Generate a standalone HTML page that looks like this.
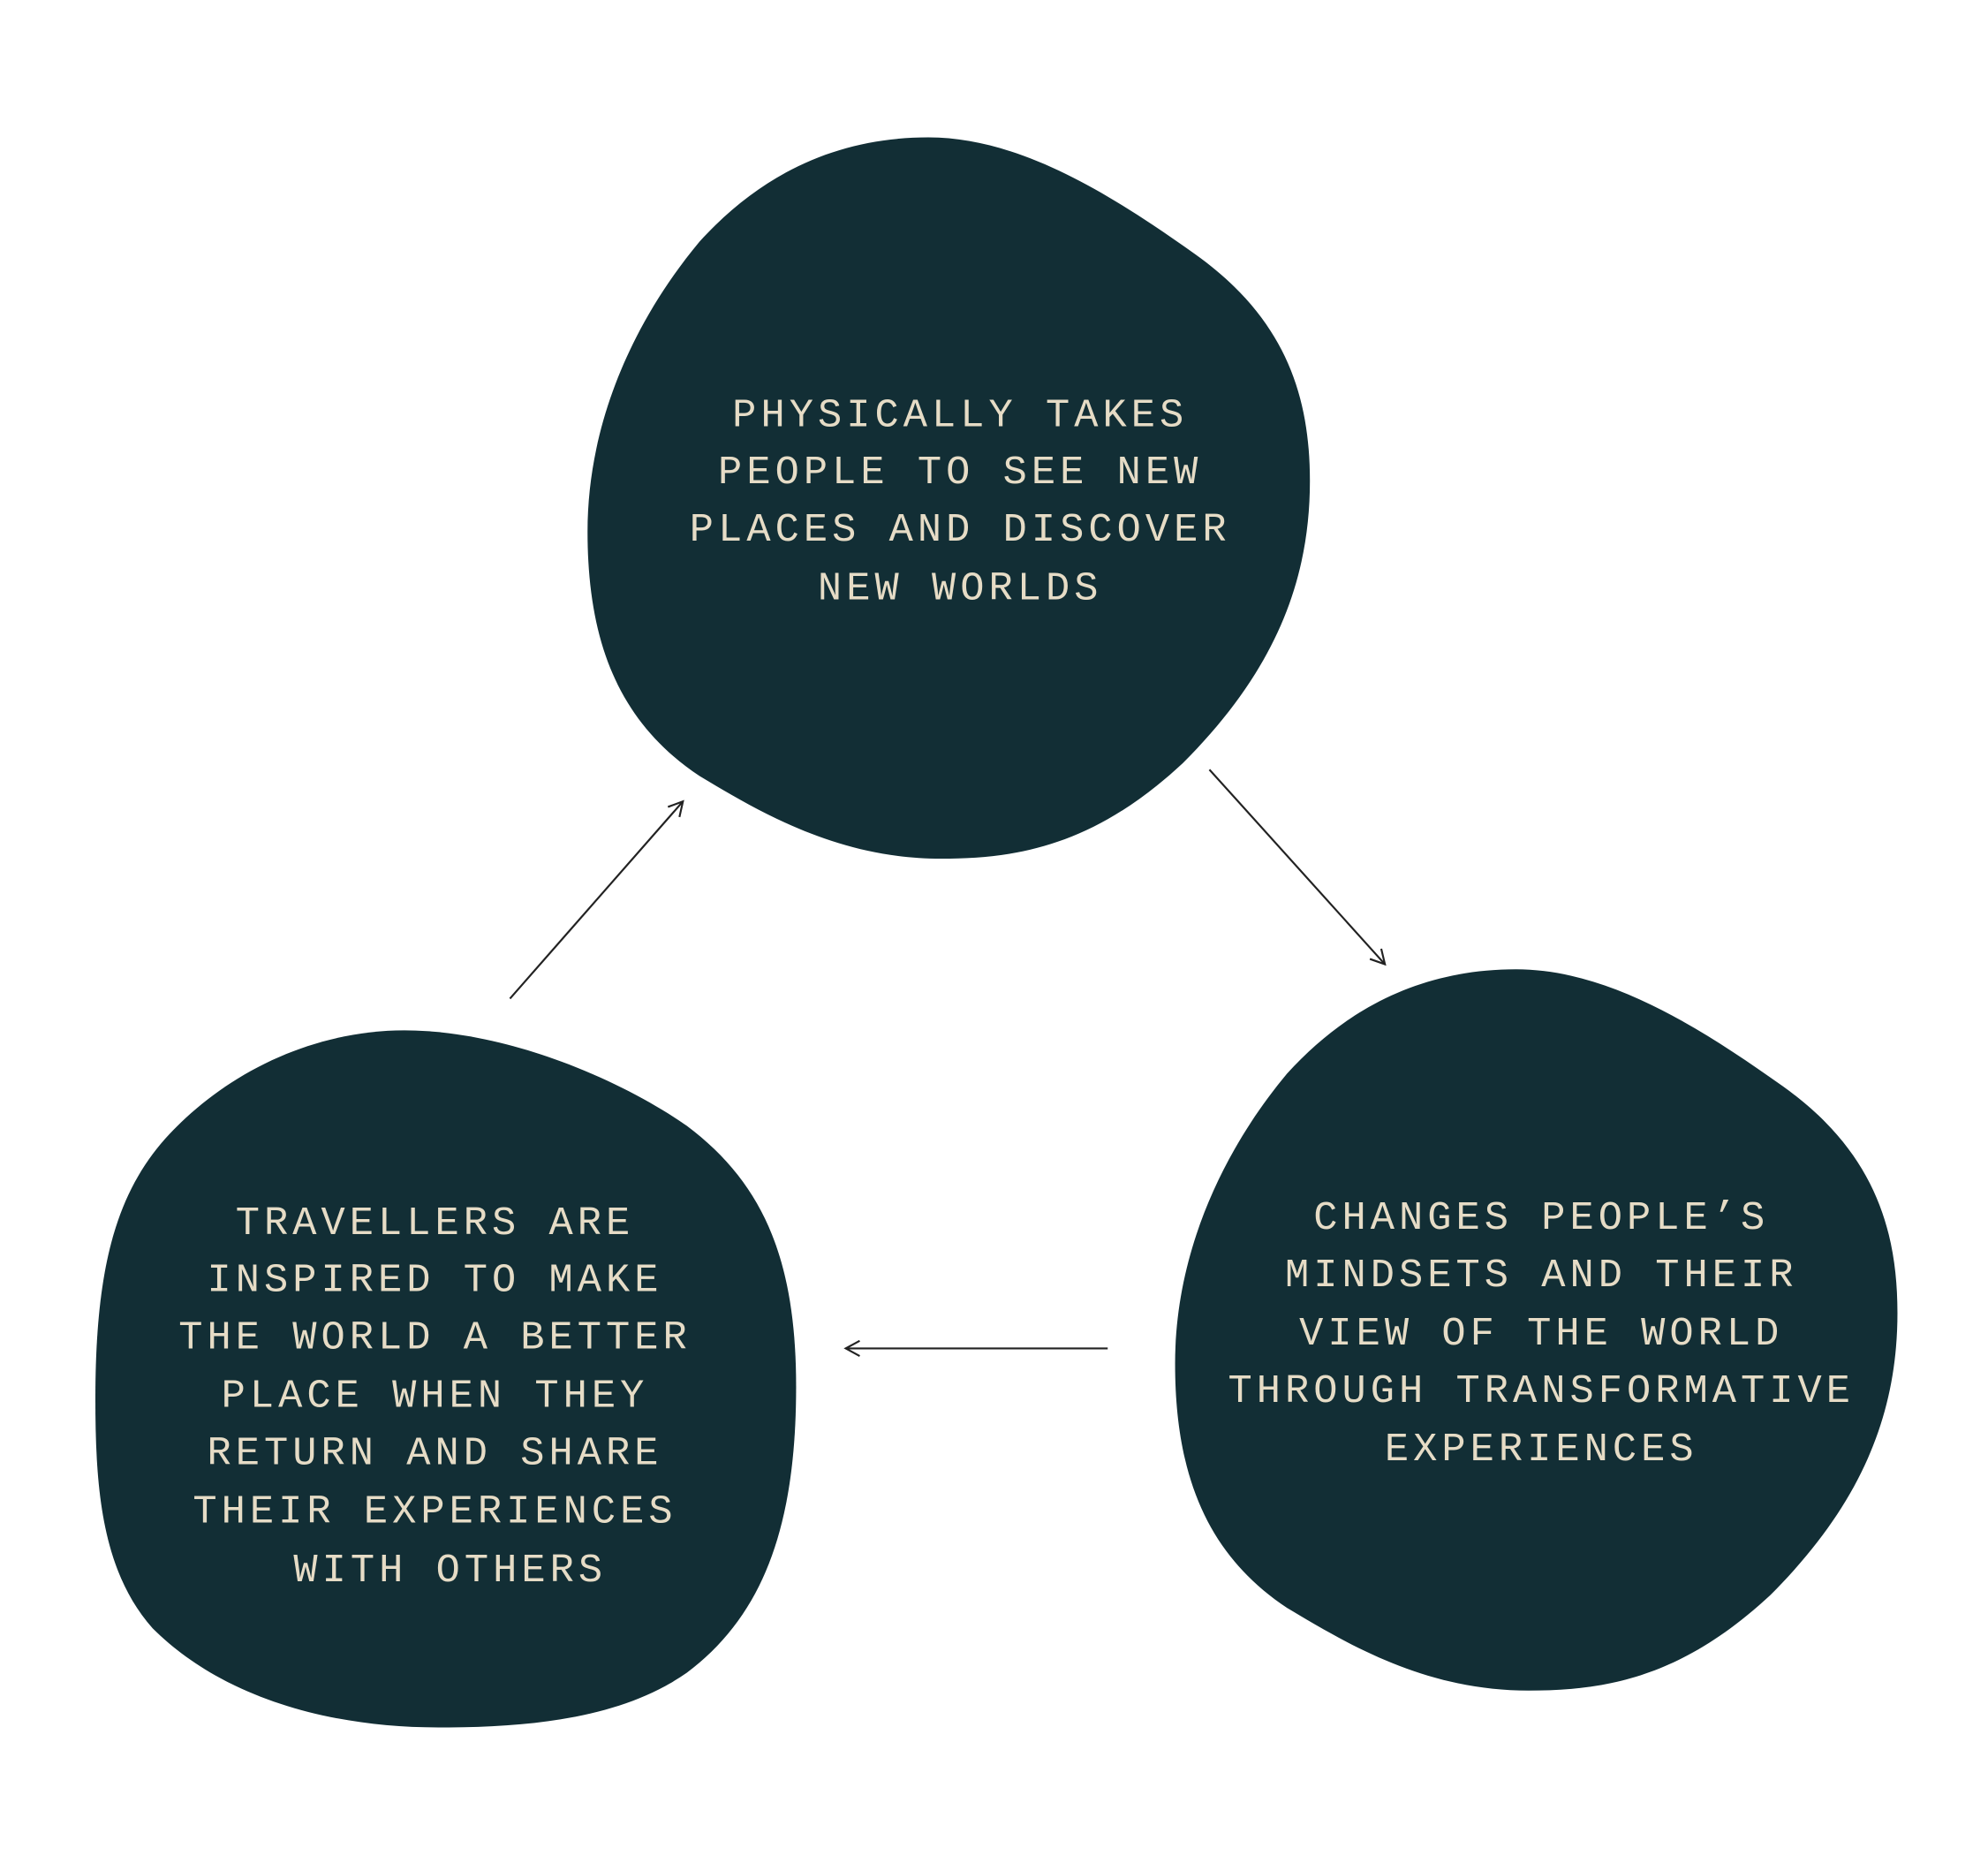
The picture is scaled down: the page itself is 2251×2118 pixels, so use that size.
<!DOCTYPE html>
<html><head><meta charset="utf-8"><style>
html,body{margin:0;padding:0;background:#fff;}
svg{display:block;}
text{font-family:"Liberation Mono",monospace;font-size:31.5px;letter-spacing:3.5px;fill:#e6dcc6;text-anchor:middle;}
</style></head><body>
<svg width="2251" height="2118" viewBox="0 0 1563.2 1470.8" xmlns="http://www.w3.org/2000/svg">
<defs>
<path id="blob" d="M730,108 C800,108 870,150 940,200 C1010,250 1030,310 1030,378 C1030,460 1000,530 930,600 C860,665 800,675 740,675 C660,675 600,640 550,610 C490,570 462,510 462,418 C462,330 500,250 550,190 C600,135 660,108 730,108 Z"/>
<marker id="ah" markerWidth="14" markerHeight="14" refX="12" refY="7" orient="auto" markerUnits="userSpaceOnUse">
<path d="M1,1 L12,7 L1,13" fill="none" stroke="#222" stroke-width="1.5"/>
</marker>
</defs>
<use href="#blob" fill="#122e35"/>
<use href="#blob" fill="#122e35" transform="translate(462,654)"/>
<path fill="#122e35" d="M318,810 C400,810 490,850 540,885 C600,930 626,990 626,1090 C626,1200 600,1270 540,1315 C490,1350 420,1358 345,1358 C250,1358 170,1330 120,1280 C80,1235 75,1170 75,1100 C75,1000 90,940 130,895 C180,840 250,810 318,810 Z"/>
<g stroke="#222" stroke-width="1.5" fill="none">
<line x1="401" y1="785" x2="537" y2="630" marker-end="url(#ah)"/>
<line x1="951" y1="605" x2="1089" y2="758" marker-end="url(#ah)"/>
<line x1="871" y1="1060" x2="665" y2="1060" marker-end="url(#ah)"/>
</g>
<text x="755" y="335">PHYSICALLY TAKES</text>
<text x="755" y="380">PEOPLE TO SEE NEW</text>
<text x="755" y="425">PLACES AND DISCOVER</text>
<text x="755" y="471">NEW WORLDS</text>

<text x="1212" y="966">CHANGES PEOPLE’S</text>
<text x="1212" y="1011">MINDSETS AND THEIR</text>
<text x="1212" y="1057">VIEW OF THE WORLD</text>
<text x="1212" y="1102">THROUGH TRANSFORMATIVE</text>
<text x="1212" y="1148">EXPERIENCES</text>

<text x="342" y="970">TRAVELLERS ARE</text>
<text x="342" y="1015">INSPIRED TO MAKE</text>
<text x="342" y="1060">THE WORLD A BETTER</text>
<text x="342" y="1106">PLACE WHEN THEY</text>
<text x="342" y="1151">RETURN AND SHARE</text>
<text x="342" y="1197">THEIR EXPERIENCES</text>
<text x="354" y="1243">WITH OTHERS</text>
</svg>
</body></html>
